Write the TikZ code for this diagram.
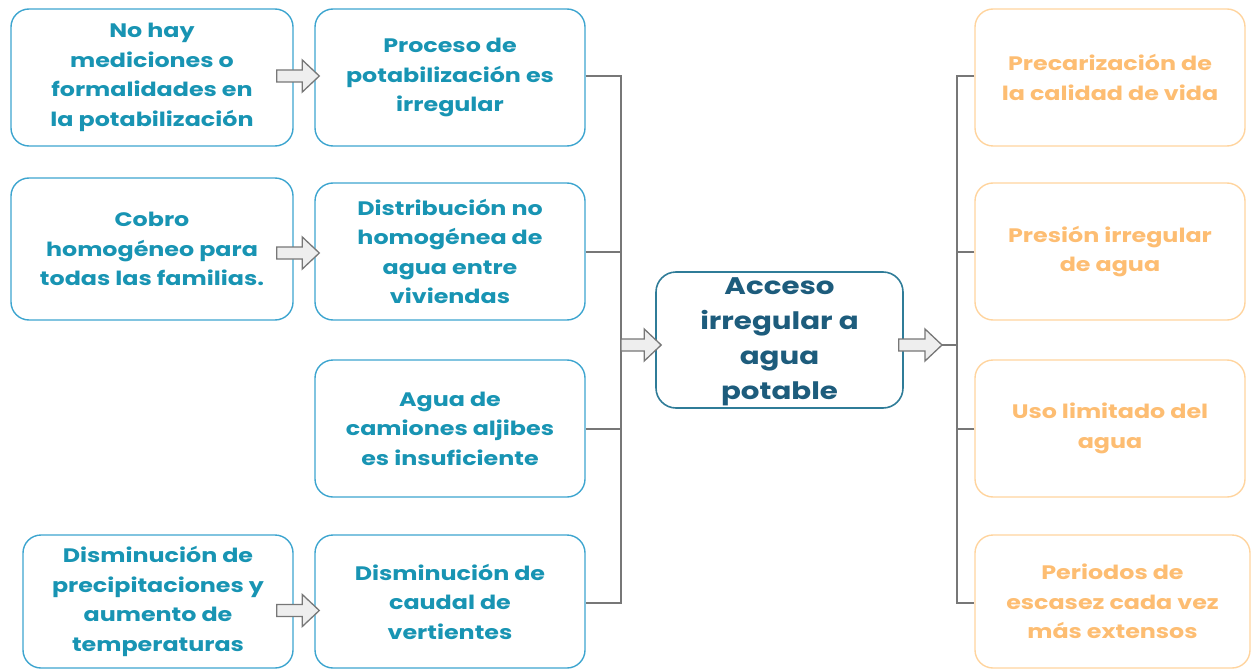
\documentclass[tikz,border=0pt]{standalone}
\usepackage{fontspec}
\setmainfont{Poppins}[FakeStretch=1.22]
\usetikzlibrary{calc}
\definecolor{lblue}{HTML}{3DA5CF}
\definecolor{ltext}{HTML}{1894B3}
\definecolor{cborder}{HTML}{2F7C98}
\definecolor{ctext}{HTML}{1D5C7C}
\definecolor{oborder}{HTML}{FFD49E}
\definecolor{otext}{HTML}{FDBD72}
\definecolor{lgray}{HTML}{777777}
\definecolor{afill}{HTML}{EEEEEE}
\tikzset{
  box/.style={draw=lblue, line width=1.4pt, rounded corners=18pt, align=center,
    text=ltext, font=\fontsize{19.5}{29.5}\selectfont\bfseries, inner sep=0pt},
  cbox/.style={draw=cborder, line width=1.6pt, rounded corners=20pt},
  ctext/.style={text=ctext, font=\fontsize{24}{35}\selectfont\bfseries, align=center, inner sep=0pt},
  obox/.style={draw=oborder, line width=1.4pt, rounded corners=18pt, align=center,
    text=otext, font=\fontsize{19.5}{29.5}\selectfont\bfseries, inner sep=0pt},
  bracket/.style={draw=lgray, line width=1.3pt},
  barrowstyle/.style={draw=lgray, fill=afill, line width=1.3pt, line join=miter},
}
\newcommand{\barrow}[2]{%
  \path let \p1=#1, \p2=#2 in
    [barrowstyle] (\x1,\y1+6pt) -- (\x2-17pt,\y1+6pt) -- (\x2-17pt,\y1+16pt) -- (\x2,\y1)
    -- (\x2-17pt,\y1-16pt) -- (\x2-17pt,\y1-6pt) -- (\x1,\y1-6pt) -- cycle;}
\begin{document}
\begin{tikzpicture}[x=1pt,y=-1pt]
\useasboundingbox (0,0) rectangle (1257,671);
% left column
\node[box, minimum width=282pt, minimum height=137pt] (L1) at (152,77.5) {No hay\\mediciones o\\formalidades en\\la potabilización};
\node[box, minimum width=282pt, minimum height=142pt] (L2) at (152,249) {Cobro\\homogéneo para\\todas las familias.};
\node[box, minimum width=270pt, minimum height=133pt] (L4) at (158,601.5) {Disminución de\\precipitaciones y\\aumento de\\temperaturas};
% middle column
\node[box, minimum width=270pt, minimum height=137pt] (M1) at (450,77.5) {Proceso de\\potabilización es\\irregular};
\node[box, minimum width=270pt, minimum height=137pt] (M2) at (450,251.5) {Distribución no\\homogénea de\\agua entre\\viviendas};
\node[box, minimum width=270pt, minimum height=137pt] (M3) at (450,428.5) {Agua de\\camiones aljibes\\es insuficiente};
\node[box, minimum width=270pt, minimum height=133pt] (M4) at (450,601.5) {Disminución de\\caudal de\\vertientes};
% center
\node[cbox, minimum width=247pt, minimum height=136pt] (C) at (779.5,340) {};
\node[ctext] (Ct) at (779.5,342) {Acceso\\irregular a\\agua\\potable};
% right column
\node[obox, minimum width=270pt, minimum height=137pt] (R1) at (1110,77.5) {Precarización de\\la calidad de vida};
\node[obox, minimum width=270pt, minimum height=137pt] (R2) at (1110,251.5) {Presión irregular\\de agua};
\node[obox, minimum width=270pt, minimum height=137pt] (R3) at (1110,428.5) {Uso limitado del\\agua};
\node[obox, minimum width=275pt, minimum height=133pt] (R4) at (1112.5,601.5) {Periodos de\\escasez cada vez\\más extensos};
% coordinates
\coordinate (lb) at (621,345);
\coordinate (rb) at (957,345);
\coordinate (ra) at (942,345);
% left bracket
\draw[bracket] (M1.east |- 0,76) -| (lb |- 0,603) -- (M4.east |- 0,603);
\draw[bracket] (M2.east |- 0,252) -- (lb |- 0,252);
\draw[bracket] (M3.east |- 0,429) -- (lb |- 0,429);
% right bracket
\draw[bracket] (R1.west |- 0,76) -| (rb |- 0,603) -- (R4.west |- 0,603);
\draw[bracket] (R2.west |- 0,252) -- (rb |- 0,252);
\draw[bracket] (R3.west |- 0,429) -- (rb |- 0,429);
\draw[bracket] (ra) -- (rb);
% block arrows
\barrow{($(L1.east)+(-17,-1.5)$)}{($(M1.west)+(5,0)$)}
\barrow{($(L2.east)+(-17,4)$)}{($(M2.west)+(5,0)$)}
\barrow{($(L4.east)+(-17,9)$)}{($(M4.west)+(5,0)$)}
\barrow{(lb)}{($(C.west)+(6,5)$)}
\barrow{($(C.east)+(-5,5)$)}{(ra)}
\end{tikzpicture}
\end{document}
